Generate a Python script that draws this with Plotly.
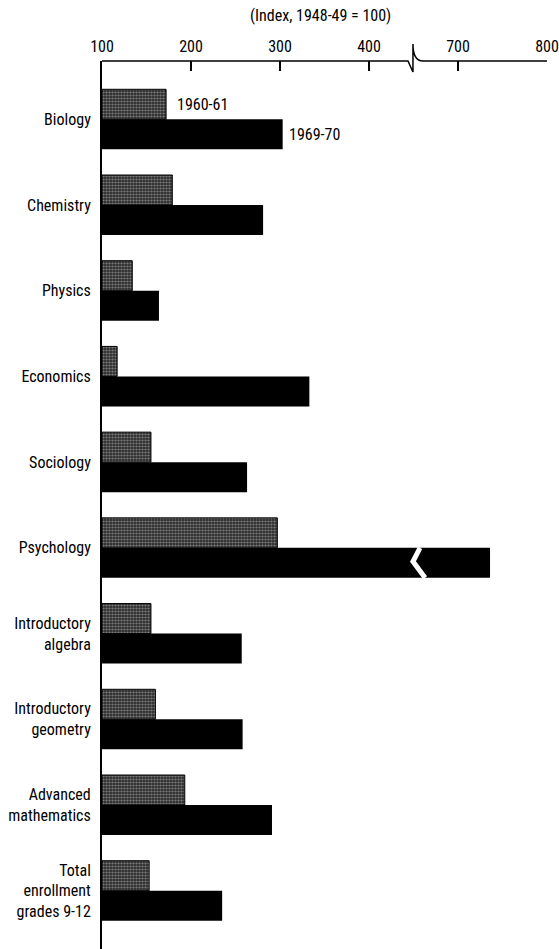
import plotly.graph_objects as go

# ---- data -------------------------------------------------------------
categories = ["Biology", "Chemistry", "Physics", "Economics", "Sociology",
              "Psychology", "Introductory<br>algebra", "Introductory<br>geometry",
              "Advanced<br>mathematics", "Total<br>enrollment<br>grades 9-12"]
series_names = ["1960-61", "1969-70"]
index_1960 = [172, 179, 134, 117, 155, 297, 155, 160, 193, 153]
index_1969 = [303, 281, 164, 333, 263, 736, 257, 258, 291, 235]
tick_values = [100, 200, 300, 400, 700, 800]
axis_title = "(Index, 1948-49 = 100)"

# broken axis: values above the break are shifted left by the skipped span
BREAK_AT = 450
SKIP = 200


def to_axis(v):
    return v if v < BREAK_AT else v - SKIP


BASE = 100
FONT = "Liberation Sans Narrow, Roboto Condensed, DejaVu Sans Condensed, Arial Narrow, sans-serif"
FS = 16

ypos = list(range(len(categories)))

fig = go.Figure()
fig.add_trace(go.Bar(
    name=series_names[0], orientation="h", y=ypos,
    x=[to_axis(v) - BASE for v in index_1960], base=BASE,
    marker=dict(color="#333333",
                pattern=dict(shape=".", bgcolor="#2e2e2e", fgcolor="#c8c8c8",
                             size=3, solidity=0.42),
                line=dict(color="black", width=1)),
))
fig.add_trace(go.Bar(
    name=series_names[1], orientation="h", y=ypos,
    x=[to_axis(v) - BASE for v in index_1969], base=BASE,
    marker=dict(color="black", line=dict(color="black", width=0)),
))

shapes = []
# top axis with break symbol (x in axis units, y in pixels from plot top)
bx0, bx1, bx2 = 443.8, 449.4, 460.7
shapes.append(dict(
    type="path", xref="x", yref="paper", ysizemode="pixel", yanchor=1,
    path=f"M 100 0 L {bx0} 0 L {bx1} -11 L {bx1} 17 Q {bx1} 0 {bx2} 0 L 600 0",
    line=dict(color="black", width=1.5),
))
# white chevron cutting the broken psychology bar
pi = categories.index("Psychology")
shapes.append(dict(
    type="path", xref="x", yref="y",
    path=f"M 457.3 {pi + 0.0} L 449.4 {pi + 0.16} L 463.0 {pi + 0.35}",
    line=dict(color="white", width=5),
))

annotations = [
    dict(text=axis_title, xref="paper", yref="paper", x=0.49, y=1,
         yanchor="bottom", yshift=34, showarrow=False,
         font=dict(family=FONT, size=FS, color="black")),
    dict(text=series_names[0], xref="x", yref="y", x=to_axis(index_1960[0]),
         y=-0.175, xanchor="left", xshift=9, showarrow=False,
         font=dict(family=FONT, size=FS, color="black")),
    dict(text=series_names[1], xref="x", yref="y", x=to_axis(index_1969[0]),
         y=0.175, xanchor="left", xshift=4, showarrow=False,
         font=dict(family=FONT, size=FS, color="black")),
]

fig.update_layout(
    width=559, height=949,
    margin=dict(l=102, r=12, t=61, b=0),
    paper_bgcolor="white", plot_bgcolor="white",
    barmode="group", bargap=0.3, bargroupgap=0,
    showlegend=False,
    font=dict(family=FONT, size=FS, color="black"),
    shapes=shapes, annotations=annotations,
    xaxis=dict(side="top", range=[100, 600], automargin=False,
               tickvals=[to_axis(v) for v in tick_values],
               ticktext=[str(v) for v in tick_values],
               ticks="inside", ticklen=10, tickwidth=1.5, tickcolor="black",
               ticklabelstandoff=5,
               showgrid=False, zeroline=False, showline=False,
               tickfont=dict(family=FONT, size=FS, color="black")),
    yaxis=dict(range=[9.68, -0.68], tickvals=ypos, ticktext=categories,
               automargin=False,
               showgrid=False, zeroline=False, showline=True,
               linecolor="black", linewidth=2, ticks="",
               ticklabelstandoff=6,
               tickfont=dict(family=FONT, size=FS, color="black")),
)

fig.write_html("out.html",
               config={"displayModeBar": False},
               post_script="document.body.style.margin='0';"
                           "document.body.style.overflow='hidden';")
